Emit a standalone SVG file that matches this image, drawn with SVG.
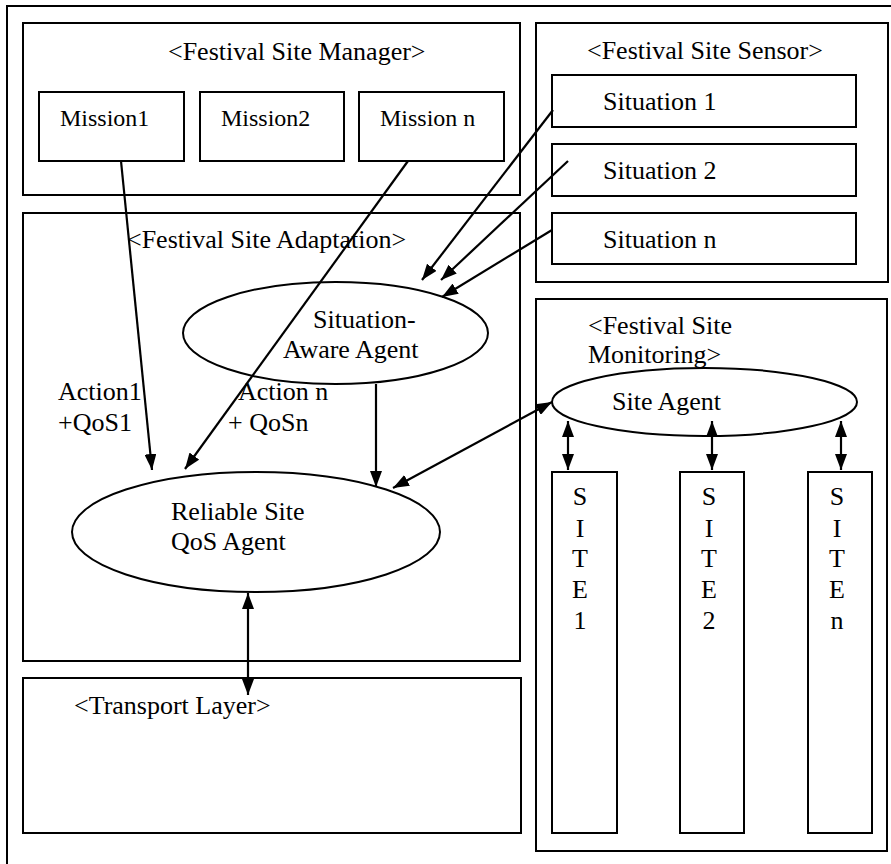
<svg xmlns="http://www.w3.org/2000/svg" width="891" height="864" viewBox="0 0 891 864" font-family="Liberation Serif, DejaVu Serif, serif">
  <defs>
    <marker id="arrow" viewBox="0 0 16 12" refX="16" refY="6" markerWidth="16" markerHeight="12" markerUnits="userSpaceOnUse" orient="auto-start-reverse">
      <path d="M0,0 L16,6 L0,12 Z" fill="#000"/>
    </marker>
  </defs>
  <style>
    .box { fill: #fff; stroke: #000; stroke-width: 2; }
    .frame { fill: none; stroke: #000; stroke-width: 2; }
    .oval { fill: #fff; stroke: #000; stroke-width: 2; }
    text { font-family: 'Liberation Serif', 'DejaVu Serif', serif; font-size: 26px; fill: #000; }
    .sm { font-size: 24px; }
    .link { stroke: #000; stroke-width: 2.2; fill: none; marker-end: url(#arrow); }
    .both { marker-start: url(#arrow); }
  </style>

  <rect width="891" height="864" fill="#fff"/>

  <!-- outer frame -->
  <rect class="frame" x="7" y="6" width="900" height="900"/>

  <!-- Festival Site Manager -->
  <g id="manager">
    <rect class="box" x="23" y="23" width="497" height="172"/>
    <text x="168" y="60">&lt;Festival Site Manager&gt;</text>
  </g>
  <g id="mission1">
    <rect class="box" x="39" y="92" width="145" height="69"/>
    <text class="sm" x="60" y="126">Mission1</text>
  </g>
  <g id="mission2">
    <rect class="box" x="200" y="92" width="144" height="69"/>
    <text class="sm" x="221" y="126">Mission2</text>
  </g>
  <g id="missionN">
    <rect class="box" x="359" y="92" width="145" height="69"/>
    <text class="sm" x="380" y="126">Mission n</text>
  </g>

  <!-- Festival Site Sensor -->
  <g id="sensor">
    <rect class="box" x="536" y="23" width="352" height="259"/>
    <text x="587" y="59">&lt;Festival Site Sensor&gt;</text>
  </g>
  <g id="situation1">
    <rect class="box" x="552" y="75" width="304" height="52"/>
    <text x="603" y="110">Situation 1</text>
  </g>
  <g id="situation2">
    <rect class="box" x="552" y="144" width="304" height="52"/>
    <text x="603" y="179">Situation 2</text>
  </g>
  <g id="situationN">
    <rect class="box" x="552" y="213" width="304" height="51"/>
    <text x="603" y="248">Situation n</text>
  </g>

  <!-- Festival Site Adaptation -->
  <g id="adaptation">
    <rect class="box" x="23" y="213" width="497" height="448"/>
    <text x="127" y="248">&lt;Festival Site Adaptation&gt;</text>
  </g>
  <g id="situation-aware-agent">
    <ellipse class="oval" cx="335.5" cy="333" rx="152.5" ry="51"/>
    <text x="313" y="328">Situation-</text>
    <text x="283" y="358">Aware Agent</text>
  </g>
  <g id="reliable-agent">
    <ellipse class="oval" cx="256" cy="532" rx="184" ry="60"/>
    <text x="171" y="520">Reliable Site</text>
    <text x="171" y="550">QoS Agent</text>
  </g>

  <!-- Transport Layer -->
  <g id="transport">
    <rect class="box" x="23" y="678" width="498" height="155"/>
    <text x="74" y="714">&lt;Transport Layer&gt;</text>
  </g>

  <!-- Festival Site Monitoring -->
  <g id="monitoring">
    <rect class="box" x="536" y="299" width="351" height="552"/>
    <text x="588" y="334">&lt;Festival Site</text>
    <text x="588" y="363">Monitoring&gt;</text>
  </g>
  <g id="site-agent">
    <ellipse class="oval" cx="704.5" cy="402" rx="152.5" ry="34"/>
    <text x="612" y="410">Site Agent</text>
  </g>
  <g id="site1">
    <rect class="box" x="552" y="472" width="65" height="361"/>
    <text text-anchor="middle">
      <tspan x="580" y="505">S</tspan><tspan x="580" y="537">I</tspan><tspan x="580" y="567">T</tspan><tspan x="580" y="598">E</tspan><tspan x="580" y="629">1</tspan>
    </text>
  </g>
  <g id="site2">
    <rect class="box" x="680" y="472" width="64" height="361"/>
    <text text-anchor="middle">
      <tspan x="709" y="505">S</tspan><tspan x="709" y="537">I</tspan><tspan x="709" y="567">T</tspan><tspan x="709" y="598">E</tspan><tspan x="709" y="629">2</tspan>
    </text>
  </g>
  <g id="siteN">
    <rect class="box" x="808" y="472" width="64" height="361"/>
    <text text-anchor="middle">
      <tspan x="837" y="505">S</tspan><tspan x="837" y="537">I</tspan><tspan x="837" y="567">T</tspan><tspan x="837" y="598">E</tspan><tspan x="837" y="629">n</tspan>
    </text>
  </g>

  <!-- action labels -->
  <g id="action-labels">
    <text x="58" y="400">Action1</text>
    <text x="58" y="431">+QoS1</text>
    <text x="238" y="400">Action n</text>
    <text x="228" y="431">+ QoSn</text>
  </g>

  <!-- connectors -->
  <g id="connectors">
    <line class="link" x1="121" y1="161" x2="152" y2="470"/>
    <line class="link" x1="408" y1="161" x2="185" y2="469"/>
    <line class="link" x1="553" y1="110" x2="422" y2="280"/>
    <line class="link" x1="568" y1="161" x2="441" y2="280"/>
    <line class="link" x1="552" y1="230" x2="442" y2="297"/>
    <line class="link" x1="376" y1="384" x2="376" y2="487"/>
    <line class="link both" x1="393" y1="488" x2="552" y2="402"/>
    <line class="link both" x1="248" y1="593" x2="248" y2="695"/>
    <line class="link both" x1="568" y1="421" x2="568" y2="470"/>
    <line class="link both" x1="712" y1="421" x2="712" y2="470"/>
    <line class="link both" x1="841" y1="421" x2="841" y2="470"/>
  </g>
</svg>
